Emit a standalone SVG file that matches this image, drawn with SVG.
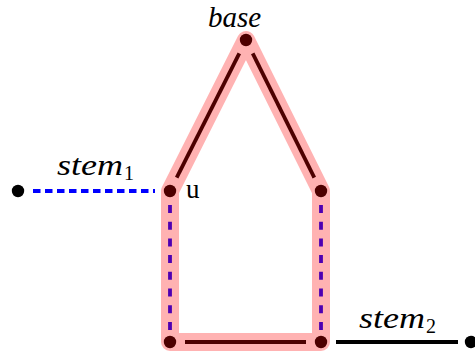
<svg xmlns="http://www.w3.org/2000/svg" width="475" height="351" viewBox="0 0 475 351">
<style>
.solid{stroke:#000;stroke-width:3.8;fill:none}
.bdash{stroke:#0000ff;stroke-width:3.8;fill:none}
.dot{fill:#000}
.hl{fill:none;stroke:#ff0000;stroke-opacity:0.3;stroke-width:18;stroke-linejoin:round;stroke-linecap:round}
.lbl{font-family:"Liberation Serif","DejaVu Serif",serif;font-style:italic;font-size:29px;fill:#000}
.sub{font-family:"Liberation Serif","DejaVu Serif",serif;font-size:20px;fill:#000}
.u{font-family:"Liberation Serif","DejaVu Serif",serif;font-size:27px;fill:#000}
</style>
<rect width="475" height="351" fill="#fff"/>
<g id="connectors">
<line class="solid" x1="239.3" y1="53.4" x2="176.7" y2="177.6"/>
<line class="solid" x1="252.7" y1="53.4" x2="314.3" y2="177.6"/>
<line class="solid" x1="185" y1="342" x2="306" y2="342"/>
<line class="solid" x1="336" y1="342" x2="458" y2="342"/>
<line class="bdash" x1="33" y1="191" x2="155" y2="191" stroke-dasharray="7.5,4.5"/>
<line class="bdash" x1="170" y1="205" x2="170" y2="330" stroke-dasharray="8,8.7"/>
<line class="bdash" x1="321" y1="205" x2="321" y2="330" stroke-dasharray="8,8.7"/>
</g>
<g id="node-base"><circle class="dot" cx="246" cy="40" r="6.2"/><text class="lbl" x="208" y="27">base</text></g>
<g id="node-u"><circle class="dot" cx="170" cy="191" r="6.2"/><text class="u" x="186" y="198">u</text></g>
<g id="node-r"><circle class="dot" cx="321" cy="191" r="6.2"/></g>
<g id="node-bl"><circle class="dot" cx="170" cy="342" r="6.2"/></g>
<g id="node-br"><circle class="dot" cx="321" cy="342" r="6.2"/></g>
<g id="node-stem1"><circle class="dot" cx="18" cy="191" r="6.2"/><text class="lbl" x="57" y="175" textLength="66" lengthAdjust="spacingAndGlyphs">stem</text><text class="sub" x="124" y="180">1</text></g>
<g id="node-stem2"><circle class="dot" cx="471" cy="342" r="6.2"/><text class="lbl" x="359" y="328" textLength="66" lengthAdjust="spacingAndGlyphs">stem</text><text class="sub" x="426" y="333">2</text></g>
<g id="highlight">
<path class="hl" d="M170,191 L246,40 L321,191 L321,342 L170,342 Z"/>
</g>
</svg>
